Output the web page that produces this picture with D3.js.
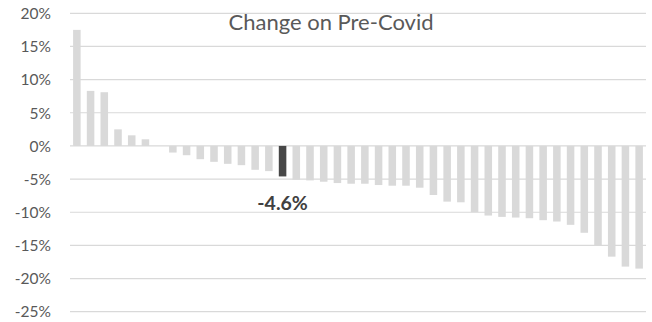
<!DOCTYPE html>
<html>
<head>
<meta charset="utf-8">
<script src="https://cdn.jsdelivr.net/npm/d3@7"></script>
<style>
  html, body { margin: 0; padding: 0; background: #fff; }
  svg { display: block; }
</style>
</head>
<body>
<svg id="chart" width="652" height="322"></svg>
<script>
// Change on pre-Covid level, one bar per category, sorted descending
const categories = d3.range(1, 43).map(String);
const values = [17.5, 8.3, 8.1, 2.5, 1.6, 1.0, 0, -1.0, -1.4, -2.0, -2.4, -2.7, -2.9, -3.6, -3.8,
  -4.6, -5.1, -5.2, -5.4, -5.6, -5.7, -5.7, -5.9, -6.0, -6.0, -6.3, -7.4, -8.4, -8.5, -10.0,
  -10.5, -10.7, -10.8, -10.9, -11.2, -11.4, -11.9, -13.1, -15.0, -16.7, -18.2, -18.5];
const highlighted = "16";
const tickValues = [20, 15, 10, 5, 0, -5, -10, -15, -20, -25];
const title = "Change on Pre-Covid";

const data = categories.map((c, i) => ({ cat: c, value: values[i] }));

const svg = d3.select("#chart");
const margin = { left: 70, right: 6, top: 13.3, bottom: 10.3 };
const W = 652, H = 322;

const x = d3.scaleBand()
  .domain(categories)
  .range([margin.left, W - margin.right])
  .paddingInner(0.45)
  .paddingOuter(0.225);

const y = d3.scaleLinear()
  .domain([-25, 20])
  .range([H - margin.bottom, margin.top]);

const font = "Lato, 'Open Sans', sans-serif";

// gridlines
svg.append("g")
  .selectAll("line")
  .data(tickValues)
  .join("line")
  .attr("x1", margin.left)
  .attr("x2", W - margin.right)
  .attr("y1", d => y(d))
  .attr("y2", d => y(d))
  .attr("stroke", "#d9d9d9")
  .attr("stroke-width", 1.2);

// y axis labels
const yAxis = d3.axisLeft(y)
  .tickValues(tickValues)
  .tickFormat(d => d + "%")
  .tickSize(0)
  .tickPadding(0);

svg.append("g")
  .attr("transform", `translate(${margin.left - 19},0)`)
  .call(yAxis)
  .call(g => g.select(".domain").remove())
  .call(g => g.selectAll("text")
    .attr("fill", "#595959")
    .attr("font-family", font)
    .attr("font-size", 15.5)
    .attr("dy", "0.34em"));

// bars
svg.append("g")
  .selectAll("rect")
  .data(data)
  .join("rect")
  .attr("x", d => x(d.cat))
  .attr("width", x.bandwidth())
  .attr("y", d => y(Math.max(0, d.value)))
  .attr("height", d => Math.abs(y(d.value) - y(0)))
  .attr("fill", d => d.cat === highlighted ? "#474747" : "#d9d9d9");

// title
svg.append("text")
  .attr("x", 331)
  .attr("y", 30)
  .attr("text-anchor", "middle")
  .attr("fill", "#595959")
  .attr("font-family", font)
  .attr("font-size", 22)
  .text(title);

// value label for highlighted bar
const hi = data.find(d => d.cat === highlighted);
svg.append("text")
  .attr("x", x(hi.cat) + x.bandwidth() / 2)
  .attr("y", 210)
  .attr("text-anchor", "middle")
  .attr("fill", "#404040")
  .attr("font-family", font)
  .attr("font-weight", "bold")
  .attr("font-size", 19.5)
  .text(hi.value.toFixed(1) + "%");
</script>
</body>
</html>
